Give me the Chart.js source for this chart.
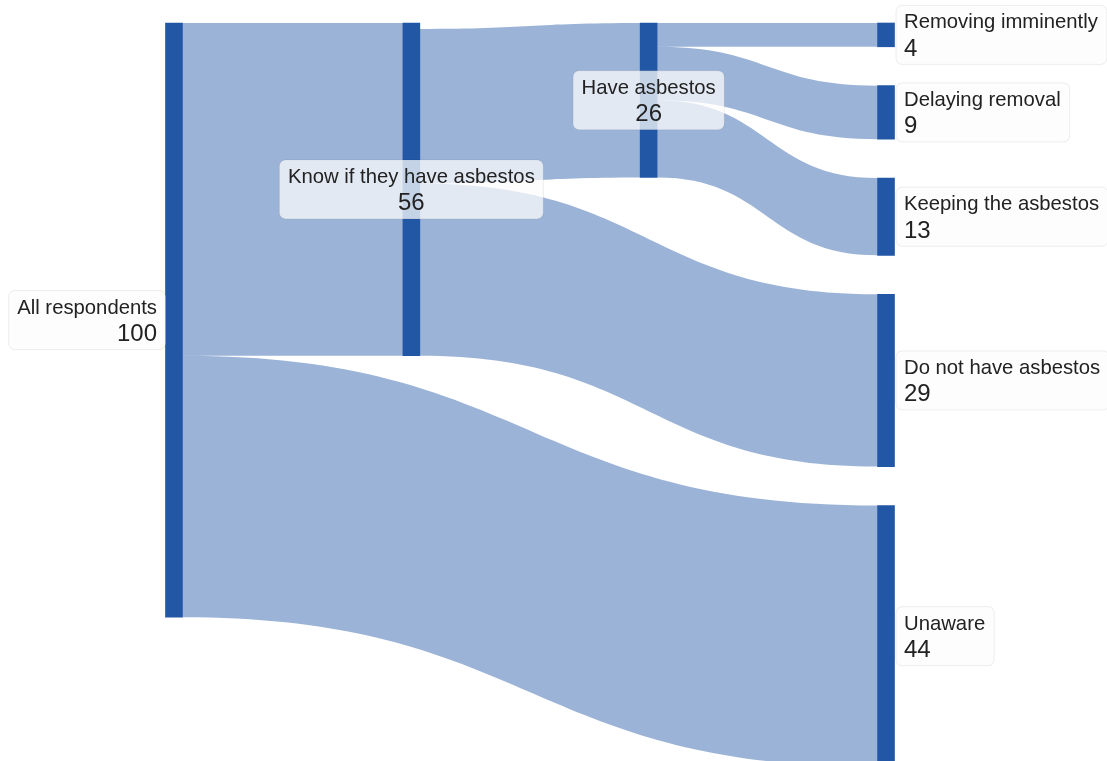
<!DOCTYPE html>
<html>
<head>
<meta charset="utf-8">
<title>Asbestos</title>
<script src="https://cdn.jsdelivr.net/npm/chart.js@4.4.1/dist/chart.umd.min.js"></script>
<style>
html, body { margin: 0; padding: 0; background: #fff; }
#wrap { width: 1107px; height: 761px; position: relative; }
</style>
</head>
<body>
<div id="wrap"><canvas id="grafica"></canvas></div>
<script>

// DATOS DEL DIAGRAMA

const nodeNames = ['All respondents', 'Know if they have asbestos', 'Have asbestos',
  'Removing imminently', 'Delaying removal', 'Keeping the asbestos',
  'Do not have asbestos', 'Unaware'];
const nodeColumns = [0, 1, 2, 3, 3, 3, 3, 3];

const linkSources = [0, 0, 1, 1, 2, 2, 2];
const linkTargets = [1, 7, 2, 6, 3, 4, 5];
const linkValues  = [56, 44, 26, 29, 4, 9, 13];


// ACOMODO DE NODOS

const nodeGap = 6.55;
const lastCol = Math.max(...nodeColumns);

const inSum = nodeNames.map(() => 0);
const outSum = nodeNames.map(() => 0);
linkValues.forEach((v, k) => {
  outSum[linkSources[k]] += v;
  inSum[linkTargets[k]] += v;
});
const nodeValues = nodeNames.map((n, i) => Math.max(inSum[i], outSum[i]));

const nodeTop = [];
const colCursor = {};
nodeNames.forEach((n, i) => {
  const c = nodeColumns[i];
  nodeTop[i] = colCursor[c] || 0;
  colCursor[c] = nodeTop[i] + nodeValues[i] + nodeGap;
});

const linkStart = [];
const linkEnd = [];
const outCursor = nodeTop.map((t, i) => t + nodeValues[i] - outSum[i]);
const inCursor = nodeTop.slice();
linkValues.forEach((v, k) => {
  linkStart[k] = outCursor[linkSources[k]];
  outCursor[linkSources[k]] += v;
  linkEnd[k] = inCursor[linkTargets[k]];
  inCursor[linkTargets[k]] += v;
});


// FLUJOS (debajo de los nodos)

const flujos = {
  id: 'flujos',
  beforeDatasetsDraw(chart) {
    const { ctx, scales: { x, y } } = chart;
    const half = chart.getDatasetMeta(0).data[0].width / 2;
    ctx.save();
    ctx.fillStyle = 'rgba(34, 87, 166, 0.45)';
    linkValues.forEach((v, k) => {
      const x0 = x.getPixelForValue(nodeColumns[linkSources[k]]) + half;
      const x1 = x.getPixelForValue(nodeColumns[linkTargets[k]]) - half;
      const xm = (x0 + x1) / 2;
      const a0 = y.getPixelForValue(linkStart[k]);
      const b0 = y.getPixelForValue(linkStart[k] + v);
      const a1 = y.getPixelForValue(linkEnd[k]);
      const b1 = y.getPixelForValue(linkEnd[k] + v);
      ctx.beginPath();
      ctx.moveTo(x0, a0);
      ctx.bezierCurveTo(xm, a0, xm, a1, x1, a1);
      ctx.lineTo(x1, b1);
      ctx.bezierCurveTo(xm, b1, xm, b0, x0, b0);
      ctx.closePath();
      ctx.fill();
    });
    ctx.restore();
  }
};


// ETIQUETAS

function cajaRedonda(ctx, bx, by, bw, bh, r) {
  ctx.beginPath();
  ctx.moveTo(bx + r, by);
  ctx.arcTo(bx + bw, by, bx + bw, by + bh, r);
  ctx.arcTo(bx + bw, by + bh, bx, by + bh, r);
  ctx.arcTo(bx, by + bh, bx, by, r);
  ctx.arcTo(bx, by, bx + bw, by, r);
  ctx.closePath();
}

const etiquetas = {
  id: 'etiquetas',
  afterDatasetsDraw(chart) {
    const { ctx, scales: { x, y } } = chart;
    const half = chart.getDatasetMeta(0).data[0].width / 2;
    const fName = '20.3px "Liberation Sans", Arial, sans-serif';
    const fValue = '24px "Liberation Sans", Arial, sans-serif';
    ctx.save();
    nodeNames.forEach((name, i) => {
      const val = String(Math.round(nodeValues[i]));
      ctx.font = fName;
      const w1 = ctx.measureText(name).width;
      ctx.font = fValue;
      const w2 = ctx.measureText(val).width;
      const bw = Math.max(w1, w2) + 17;
      const bh = 59;
      const cx = x.getPixelForValue(nodeColumns[i]);
      const cy = (y.getPixelForValue(nodeTop[i]) + y.getPixelForValue(nodeTop[i] + nodeValues[i])) / 2;
      let bx, tx, align;
      if (nodeColumns[i] === 0) {
        bx = cx - half - bw; tx = bx + bw - 8.5; align = 'right';
      } else if (nodeColumns[i] === lastCol) {
        bx = cx + half + 1.5; tx = bx + 8; align = 'left';
      } else {
        bx = cx - bw / 2; tx = cx; align = 'center';
      }
      cajaRedonda(ctx, bx, cy - 29.5, bw, bh, 6);
      ctx.fillStyle = 'rgba(252, 252, 252, 0.75)';
      ctx.fill();
      ctx.strokeStyle = 'rgba(0, 0, 0, 0.07)';
      ctx.lineWidth = 1;
      ctx.stroke();

      ctx.fillStyle = '#222';
      ctx.textAlign = align;
      ctx.textBaseline = 'alphabetic';
      ctx.font = fName;
      ctx.fillText(name, tx, cy - 6.5);
      ctx.font = fValue;
      ctx.fillText(val, tx, cy + 21);
    });
    ctx.restore();
  }
};


// GRÁFICA

const ctx = document.getElementById('grafica');

new Chart(ctx, {
  type: 'bar',
  data: {
    datasets: [{
      data: nodeNames.map((n, i) => ({ x: nodeColumns[i], y: [nodeTop[i], nodeTop[i] + nodeValues[i]] })),
      backgroundColor: '#2257a6',
      borderWidth: 0,
      barThickness: 17,
      clip: false
    }]
  },
  options: {
    responsive: true,
    maintainAspectRatio: false,
    animation: false,
    layout: { padding: { left: 174, right: 221, top: 23, bottom: 0 } },
    plugins: { legend: { display: false }, tooltip: { enabled: false } },
    scales: {
      x: { type: 'linear', min: 0, max: 3, offset: false, display: false },
      y: { type: 'linear', min: 0, max: 124.2, reverse: true, display: false }
    }
  },
  plugins: [flujos, etiquetas]
});

</script>
</body>
</html>
